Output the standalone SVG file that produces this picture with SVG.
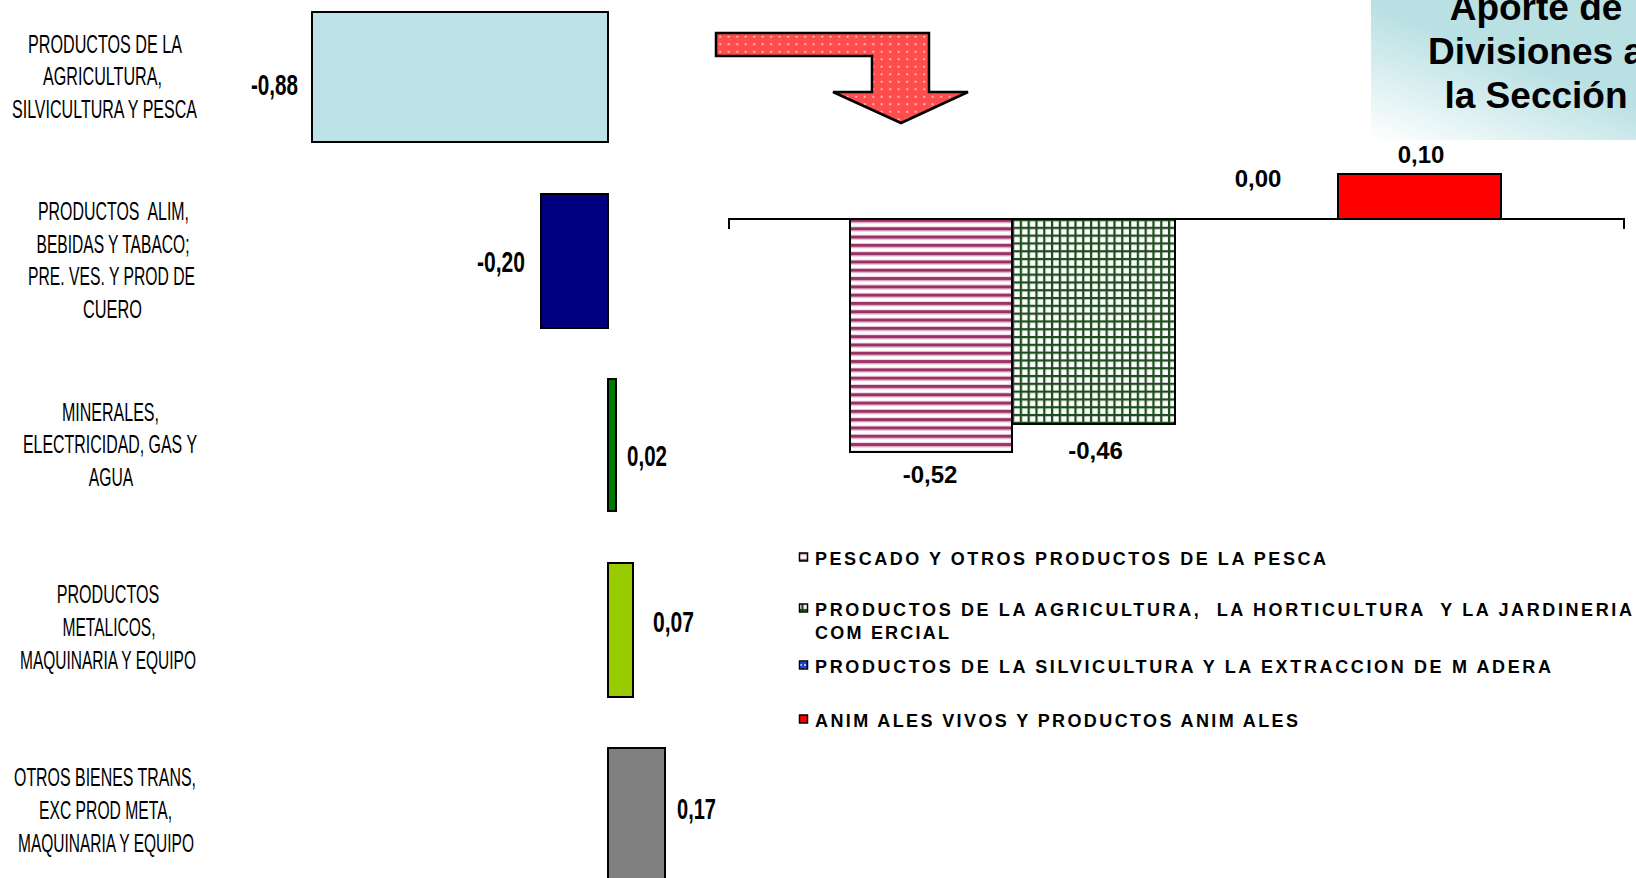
<svg xmlns="http://www.w3.org/2000/svg" width="1636" height="878" viewBox="0 0 1636 878">
<style>
.cat{font-family:"Liberation Sans",Arial,sans-serif;font-size:25px;fill:#000;text-anchor:middle}
.val{font-family:"Liberation Sans",Arial,sans-serif;font-weight:bold;font-size:29px;fill:#000;text-anchor:middle}
.rval{font-family:"Liberation Sans",Arial,sans-serif;font-weight:bold;font-size:24px;fill:#000;text-anchor:middle}
.leg{font-family:"Liberation Sans",Arial,sans-serif;font-weight:bold;font-size:18px;fill:#000;white-space:pre}
.title{font-family:"Liberation Sans",Arial,sans-serif;font-weight:bold;font-size:37px;fill:#000;text-anchor:middle}
.bar{stroke:#000;stroke-width:2}
.mk{stroke:#000;stroke-width:1.5}
</style>
<defs>
<pattern id="stripes" patternUnits="userSpaceOnUse" x="0" y="219" width="8" height="8.3">
<rect width="8" height="8.3" fill="#fff"/>
<rect y="0" width="8" height="2.8" fill="#993366"/>
<rect y="2.8" width="8" height="1.3" fill="#d49ab9"/>
<rect y="7.3" width="8" height="1" fill="#ecd2df"/>
</pattern>
<pattern id="grid" patternUnits="userSpaceOnUse" x="1012" y="219" width="7.8" height="7.8">
<rect width="7.8" height="7.8" fill="#fff"/>
<rect x="2.2" y="2.2" width="5.6" height="5.6" fill="#eef0ee"/>
<rect x="3" y="3" width="4" height="4" fill="#fff"/>
<rect width="7.8" height="2.2" fill="#1d4d1d"/>
<rect width="2.2" height="7.8" fill="#1d4d1d"/>
</pattern>
<pattern id="dots" patternUnits="userSpaceOnUse" x="716" y="33" width="8.5" height="7.5">
<rect width="8.5" height="7.5" fill="#ff4d4d"/>
<circle cx="4.2" cy="3.7" r="1" fill="#ffe0e0"/>
</pattern>
<pattern id="bluechk" patternUnits="userSpaceOnUse" width="4" height="4">
<rect width="4" height="4" fill="#2244dd"/>
<rect width="2" height="2" fill="#a8c0ff"/>
</pattern>
<linearGradient id="tg" x1="0" y1="1" x2="0.45" y2="0.35">
<stop offset="0" stop-color="#ffffff"/>
<stop offset="1" stop-color="#b9e0e3"/>
</linearGradient>
</defs>

<g id="title">
<rect x="1371" y="0" width="265" height="140" fill="url(#tg)"/>
<text class="title" x="1536" y="20">Aporte de</text>
<text class="title" x="1536" y="64">Divisiones a</text>
<text class="title" x="1536" y="108">la Sección</text>
</g>

<g id="arrow">
<polygon points="716,33 929,33 929,92 968,92 901,123 833,92 872,92 872,56 716,56" fill="url(#dots)" stroke="#000" stroke-width="2.5" stroke-linejoin="miter"/>
</g>

<g id="left-chart">
<g id="cat-agri">
<rect class="bar" x="312" y="12" width="296" height="130" fill="#bde2e5"/>
<text class="val" x="274.5" y="95" textLength="47" lengthAdjust="spacingAndGlyphs">-0,88</text>
<text class="cat" x="105" y="52.5" textLength="154" lengthAdjust="spacingAndGlyphs">PRODUCTOS DE LA</text>
<text class="cat" x="102.5" y="85" textLength="119" lengthAdjust="spacingAndGlyphs">AGRICULTURA,</text>
<text class="cat" x="104.5" y="117.5" textLength="185" lengthAdjust="spacingAndGlyphs">SILVICULTURA Y PESCA</text>
</g>
<g id="cat-alim">
<rect class="bar" x="541" y="194" width="67" height="134" fill="#000080"/>
<text class="val" x="501" y="272" textLength="48" lengthAdjust="spacingAndGlyphs">-0,20</text>
<text class="cat" x="113.5" y="220" textLength="151" lengthAdjust="spacingAndGlyphs" style="white-space:pre">PRODUCTOS  ALIM,</text>
<text class="cat" x="113" y="252.5" textLength="153" lengthAdjust="spacingAndGlyphs">BEBIDAS Y TABACO;</text>
<text class="cat" x="111.5" y="285" textLength="167" lengthAdjust="spacingAndGlyphs">PRE. VES. Y PROD DE</text>
<text class="cat" x="112.5" y="317.5" textLength="59" lengthAdjust="spacingAndGlyphs">CUERO</text>
</g>
<g id="cat-min">
<rect class="bar" x="608" y="379" width="8" height="132" fill="#007a00"/>
<text class="val" x="647" y="465.5" textLength="40" lengthAdjust="spacingAndGlyphs">0,02</text>
<text class="cat" x="110.5" y="420.5" textLength="97" lengthAdjust="spacingAndGlyphs">MINERALES,</text>
<text class="cat" x="110" y="453" textLength="174" lengthAdjust="spacingAndGlyphs">ELECTRICIDAD, GAS Y</text>
<text class="cat" x="111" y="486" textLength="44.5" lengthAdjust="spacingAndGlyphs">AGUA</text>
</g>
<g id="cat-met">
<rect class="bar" x="608" y="563" width="25" height="134" fill="#99cc00"/>
<text class="val" x="673.5" y="632" textLength="41" lengthAdjust="spacingAndGlyphs">0,07</text>
<text class="cat" x="108" y="603" textLength="102.5" lengthAdjust="spacingAndGlyphs">PRODUCTOS</text>
<text class="cat" x="109" y="635.5" textLength="93" lengthAdjust="spacingAndGlyphs">METALICOS,</text>
<text class="cat" x="108" y="668.5" textLength="176" lengthAdjust="spacingAndGlyphs">MAQUINARIA Y EQUIPO</text>
</g>
<g id="cat-otros">
<rect class="bar" x="608" y="748" width="57" height="145" fill="#808080"/>
<text class="val" x="696.5" y="819" textLength="39" lengthAdjust="spacingAndGlyphs">0,17</text>
<text class="cat" x="105" y="786" textLength="182" lengthAdjust="spacingAndGlyphs">OTROS BIENES TRANS,</text>
<text class="cat" x="105.5" y="819" textLength="133" lengthAdjust="spacingAndGlyphs">EXC PROD META,</text>
<text class="cat" x="106" y="852" textLength="176" lengthAdjust="spacingAndGlyphs">MAQUINARIA Y EQUIPO</text>
</g>
</g>

<g id="right-chart">
<g id="axis">
<polyline points="729,229 729,219 1624,219 1624,229" fill="none" stroke="#000" stroke-width="2"/>
</g>
<g id="bar-pescado">
<rect class="bar" x="850" y="219" width="162" height="233" fill="url(#stripes)"/>
<text class="rval" x="930" y="483">-0,52</text>
</g>
<g id="bar-agricultura">
<rect class="bar" x="1012" y="219" width="163" height="205" fill="url(#grid)"/>
<text class="rval" x="1095.5" y="459">-0,46</text>
</g>
<g id="bar-silvicultura">
<text class="rval" x="1258" y="187">0,00</text>
</g>
<g id="bar-animales">
<rect class="bar" x="1338" y="174" width="163" height="45" fill="#ff0000"/>
<text class="rval" x="1421" y="163">0,10</text>
</g>
</g>

<g id="legend">
<g id="leg-1">
<rect class="mk" x="799.5" y="553" width="8" height="8" fill="url(#stripes)"/>
<text class="leg" x="815" y="565" textLength="511" lengthAdjust="spacing">PESCADO Y OTROS PRODUCTOS DE LA PESCA</text>
</g>
<g id="leg-2">
<rect class="mk" x="799.5" y="604" width="8" height="8" fill="url(#grid)"/>
<text class="leg" x="815" y="616" textLength="817" lengthAdjust="spacing">PRODUCTOS DE LA AGRICULTURA,  LA HORTICULTURA  Y LA JARDINERIA</text>
<text class="leg" x="815" y="638.5" textLength="134" lengthAdjust="spacing">COM ERCIAL</text>
</g>
<g id="leg-3">
<rect class="mk" x="799.5" y="661" width="8" height="8" fill="url(#bluechk)"/>
<text class="leg" x="815" y="673" textLength="736" lengthAdjust="spacing">PRODUCTOS DE LA SILVICULTURA Y LA EXTRACCION DE M ADERA</text>
</g>
<g id="leg-4">
<rect class="mk" x="799.5" y="715" width="8" height="8" fill="#ff0000"/>
<text class="leg" x="815" y="727" textLength="483" lengthAdjust="spacing">ANIM ALES VIVOS Y PRODUCTOS ANIM ALES</text>
</g>
</g>
</svg>
